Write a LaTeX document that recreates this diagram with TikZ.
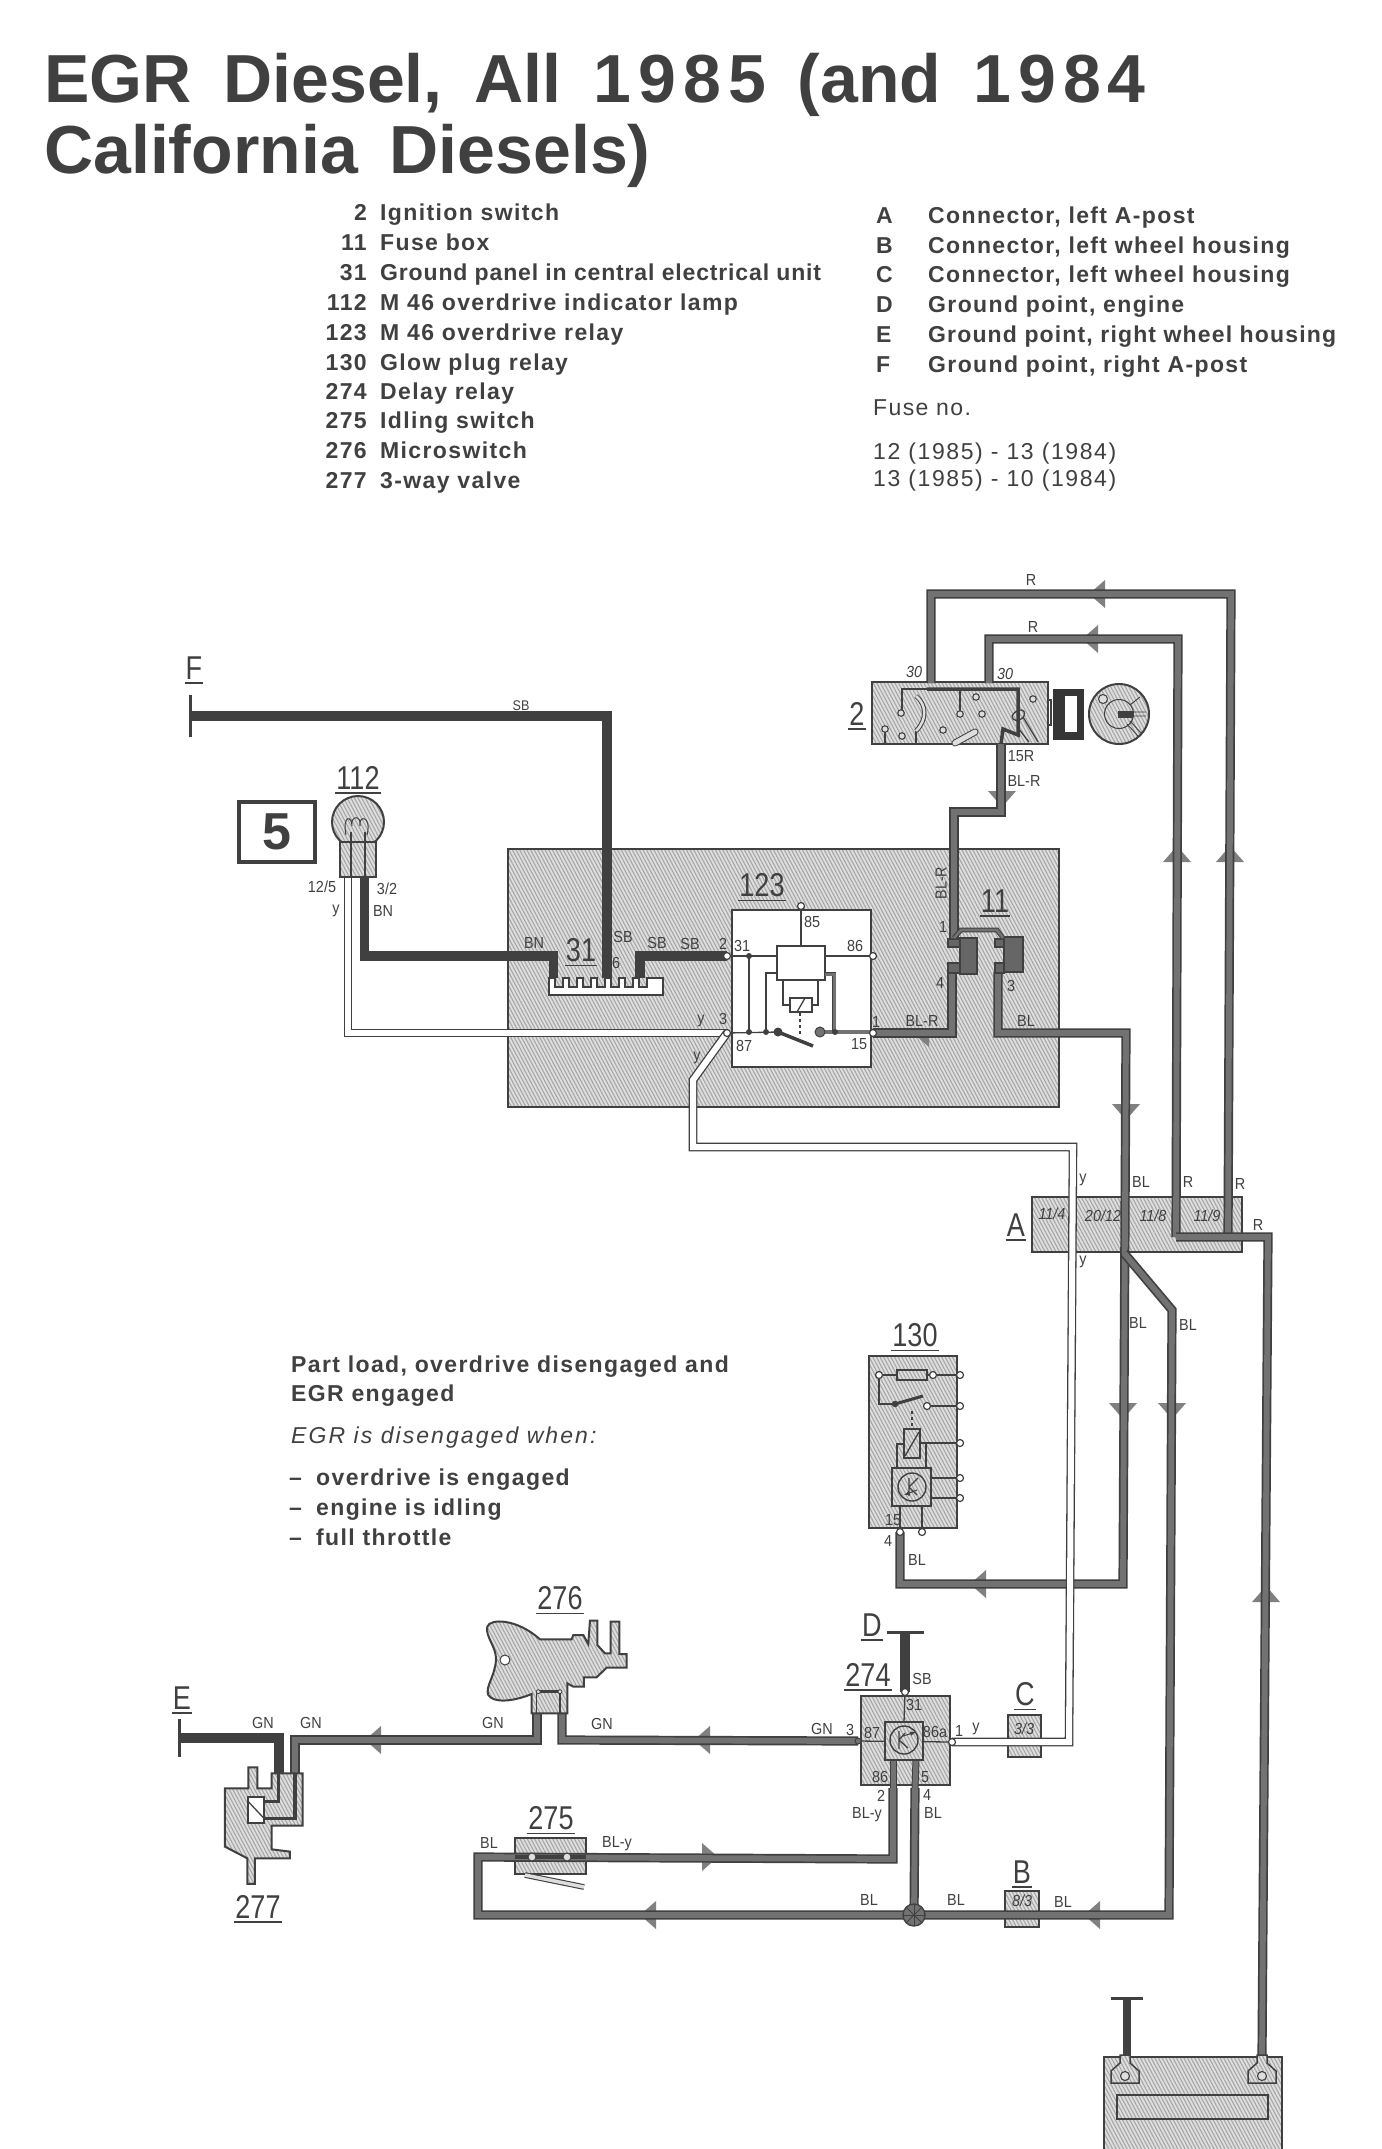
\documentclass[tikz,border=0pt]{standalone}
\usepackage{fontspec}
\usetikzlibrary{patterns.meta,calc}
\setmainfont{Liberation Sans}
\newfontfamily\idf[FakeStretch=0.82]{Liberation Sans}
\newfontfamily\wlf[FakeStretch=0.9]{Liberation Sans}
\newfontfamily\lgf[LetterSpace=6]{Liberation Sans}
\definecolor{ink}{HTML}{404040}
\definecolor{wirecore}{HTML}{727272}
\definecolor{hatchbg}{HTML}{DEDEDE}
\definecolor{hatchfg}{HTML}{A6A6A6}
\tikzset{
 wireG/.style={draw=ink,line width=1.7pt,double=wirecore,double distance=5.8pt,line join=miter},
 wireD/.style={draw=ink,line width=9.5pt,line join=miter},
 wireW/.style={draw=ink,line width=1.3pt,double=white,double distance=6pt,line join=miter},
 thinl/.style={draw=ink,line width=1.3pt},
 hatchbox/.style={draw=ink,line width=2pt,inner sep=0pt,preaction={fill=hatchbg},pattern={Lines[angle=-62,distance=3.2pt,line width=1.1pt]},pattern color=hatchfg},
 hatchpath/.style={draw=ink,line width=2pt,line join=miter,preaction={fill=hatchbg},pattern={Lines[angle=-62,distance=3.2pt,line width=1.1pt]},pattern color=hatchfg},
 whitebox/.style={draw=ink,line width=2pt,fill=white,inner sep=0pt},
 darkbox/.style={draw=ink,line width=1.5pt,fill=ink!80,inner sep=0pt},
 pinc/.style={circle,draw=ink,line width=1.2pt,fill=white,inner sep=0pt,minimum size=7pt},
 dotn/.style={circle,fill=ink,inner sep=0pt,minimum size=6pt},
 wl/.style={font=\wlf\fontsize{16}{16}\selectfont,text=ink,inner sep=0pt},
 wls/.style={font=\wlf\fontsize{14}{14}\selectfont,text=ink,inner sep=0pt},
 wli/.style={font=\wlf\itshape\fontsize{16}{16}\selectfont,text=ink,inner sep=0pt},
 idn/.style={font=\idf\fontsize{33}{33}\selectfont,text=ink,inner xsep=1pt,inner ysep=3.5pt},
 idline/.style={draw=ink,line width=1.6pt},
 lg/.style={font=\lgf\bfseries\fontsize{23}{23}\selectfont,text=ink,inner sep=0pt,anchor=base west},
 lgn/.style={font=\lgf\bfseries\fontsize{23}{23}\selectfont,text=ink,inner sep=0pt,anchor=base east},
 lgr/.style={font=\lgf\fontsize{23}{23}\selectfont,text=ink,inner sep=0pt,anchor=base west},
 ttl/.style={font=\bfseries\fontsize{68}{68}\selectfont,text=ink,inner sep=0pt,anchor=base west},
 fin/.style={fill=wirecore!90!white},
 finL/.pic={\fill[fin] (-10,0)--(6,-14)--(6,14)--cycle;},
 finR/.pic={\fill[fin] (10,0)--(-6,-14)--(-6,14)--cycle;},
 finU/.pic={\fill[fin] (0,-10)--(-14,6)--(14,6)--cycle;},
 finD/.pic={\fill[fin] (0,10)--(-14,-6)--(14,-6)--cycle;},
 finH/.pic={\fill[fin] (-10,0)--(6,0)--(6,14)--cycle;},
}
\newcommand\idlab[3]{\node[idn] (#1) at (#2) {#3}; \draw[idline] (#1.south west) -- (#1.south east);}
\newcommand\wlab[3]{\node[wl] (#1) at (#2) {#3};}
\newcommand\slab[3]{\node[wls] (#1) at (#2) {#3};}
\newcommand\pinat[2]{\node[pinc] (#1) at (#2) {};}
\newcommand\dotat[2]{\node[dotn] (#1) at (#2) {};}
\newcommand\wdg[4]{#1\kern7pt #2\kern7pt #3\kern7pt #4}
\begin{document}
\begin{tikzpicture}[x=1pt,y=-1pt]
\useasboundingbox[fill=white] (0,0) rectangle (1381,2149);
\clip (0,0) rectangle (1381,2149);
% ---------- title and legends
\node[ttl] (title1) at (44,102) {\spaceskip=32pt EGR Diesel, All \wdg1985 (and \wdg1984};
\node[ttl] (title2) at (44,173) {\spaceskip=32pt California Diesels)};
\foreach \n/\num/\txt/\yy in {a/2/Ignition switch/220,b/11/Fuse box/250,c/31/{\addfontfeature{LetterSpace=3.7}Ground panel in central electrical unit}/280,d/112/M 46 overdrive indicator lamp/310,e/123/M 46 overdrive relay/340,f/130/Glow plug relay/370,g/274/Delay relay/399,h/275/Idling switch/428,i/276/Microswitch/458,j/277/3-way valve/488}{
 \node[lgn] (ln\n) at (367,\yy) {\num};
 \node[lg] (lt\n) at (380,\yy) {\txt};
}
\foreach \n/\num/\txt/\yy in {a/A/{Connector, left A-post}/223,b/B/{Connector, left wheel housing}/253,c/C/{Connector, left wheel housing}/282,d/D/{Ground point, engine}/312,e/E/{\addfontfeature{LetterSpace=5}Ground point, right wheel housing}/342,f/F/{Ground point, right A-post}/372}{
 \node[lg] (rn\n) at (876,\yy) {\num};
 \node[lg] (rt\n) at (928,\yy) {\txt};
}
\node[lgr] (fuse0) at (873,415) {Fuse no.};
\node[lgr] (fuse1) at (873,459) {\addfontfeature{LetterSpace=7}12 (1985) - 13 (1984)};
\node[lgr] (fuse2) at (873,486) {\addfontfeature{LetterSpace=7}13 (1985) - 10 (1984)};
\node[lg] (n1) at (291,1372) {Part load, overdrive disengaged and};
\node[lg] (n2) at (291,1401) {EGR engaged};
\node[lgr,font=\lgf\itshape\fontsize{23}{23}\selectfont] (n3) at (291,1443) {\addfontfeature{LetterSpace=9}EGR is disengaged when:};
\node[lgn] (n4a) at (302,1485) {–}; \node[lg] (n4) at (316,1485) {overdrive is engaged};
\node[lgn] (n5a) at (302,1515) {–}; \node[lg] (n5) at (316,1515) {engine is idling};
\node[lgn] (n6a) at (302,1545) {–}; \node[lg] (n6) at (316,1545) {full throttle};
% ---------- panels
\node[hatchbox,minimum width=551,minimum height=258] (panel) at (783.5,978) {};
\node[hatchbox,minimum width=210,minimum height=55] (A) at (1137,1224.5) {};
\node[hatchbox,minimum width=176,minimum height=62] (sw2) at (960,713) {};
\node[hatchbox,minimum width=88,minimum height=172] (gp) at (913,1442) {};
\node[hatchbox,minimum width=89,minimum height=89] (dr) at (905.5,1740.5) {};
\node[hatchbox,minimum width=33,minimum height=42] (C) at (1024.5,1736) {};
\node[hatchbox,minimum width=34,minimum height=36] (B) at (1022,1909) {};
\node[hatchbox,minimum width=71,minimum height=36] (idle) at (550.5,1856) {};
\node[hatchbox,minimum width=178,minimum height=120] (batt) at (1193,2117) {};
\node[hatchbox,minimum width=151,minimum height=24] (battb) at (1192.5,2107) {};
\node[whitebox,minimum width=139,minimum height=157] (relay) at (801.5,988.5) {};
% ---------- coordinates
\coordinate (sw30a) at (931,683); \coordinate (sw30b) at (989,683);
\coordinate (sw15) at (1001,744);
\coordinate (rj) at (1176,1237); \coordinate (rj2) at (1228,1237);
\coordinate (battR) at (1262,2055); \coordinate (battLtop) at (1127,1998); \coordinate (battL) at (1127,2055);
\coordinate (fb1) at (954,938); \coordinate (fb4) at (952,972); \coordinate (fb3) at (998,972);
\coordinate (r1) at (873,1033); \coordinate (r2) at (727,956); \coordinate (r3) at (727,1033);
\coordinate (gp4) at (900,1532); \coordinate (blj) at (1124,1253);
\coordinate (hub) at (914,1915); \coordinate (dr87) at (858,1741); \coordinate (dr1) at (952,1742);
\coordinate (dr2) at (893,1788); \coordinate (dr4) at (915,1788); \coordinate (dr31) at (905,1692); \coordinate (Dbar) at (905,1632);
\coordinate (ms1) at (537,1713); \coordinate (ms2) at (562,1713);
\coordinate (v1) at (295,1773); \coordinate (v2) at (279,1773); \coordinate (Ebar) at (180,1738);
\coordinate (Fbar) at (190,716);
\coordinate (c1) at (553.5,978); \coordinate (c2) at (607,978); \coordinate (c3) at (640,978);
\coordinate (lampY) at (348,877); \coordinate (lampB) at (364.5,877);
% ---------- direction fins
\pic at (1099,594) {finL}; \pic at (1092,639) {finL};
\pic at (923,1033) {finH}; \pic at (980,1584) {finL};
\pic at (375,1740) {finL}; \pic at (704,1740) {finL};
\pic at (650,1915) {finL}; \pic at (1094,1915) {finL};
\pic at (708,1857) {finR};
\pic at (1177,856) {finU}; \pic at (1230,856) {finU}; \pic at (1266,1596) {finU};
\pic at (1002,797) {finD}; \pic at (1126,1110) {finD};
\pic at (1123,1409) {finD}; \pic at (1172,1409) {finD};
% ---------- wires
\draw[wireG] (rj2) -- (1231,594) -- (931,594) -- (sw30a);
\draw[wireG] (rj) -- (1178,639) -- (989,639) -- (sw30b);
\draw[wireG] (rj) -- (1268,1237) -- (battR);
\draw[wireG] (sw15) -- (1001,812) -- (954,812) -- (fb1);
\draw[wireG] (fb4) -- (952,1033) -- (r1);
\draw[wireG] (fb3) -- (998,1033) -- (1126,1033) -- (1123,1584) -- (900,1584) -- (gp4);
\draw[wireG] (blj) -- (1172,1310) -- (1169,1915) -- (478,1915) -- (478,1857) -- (893,1859) -- (dr2);
\draw[wireG] (hub) -- (dr4);
\draw[wireG] (dr87) -- (562,1740) -- (ms2);
\draw[wireG] (ms1) -- (537,1740) -- (295,1740) -- (v1);
\draw[wireD] (Fbar) -- (607,716) -- (c2);
\draw[wireD] (lampB) -- (364.5,956) -- (553.5,956) -- (c1);
\draw[wireD] (c3) -- (640,956) -- (r2);
\draw[wireD] (Ebar) -- (279,1738) -- (v2);
\draw[wireD] (Dbar) -- (dr31);
\draw[wireD,line width=8pt] (battLtop) -- (battL);
\draw[wireW] (lampY) -- (348,1033) -- (r3);
\draw[wireW] (r3) -- (693,1080) -- (693,1147) -- (1073,1147) -- (1069,1742) -- (dr1);
\draw[ink,line width=3pt] (179,1719) -- (179,1757);
\draw[ink,line width=3pt] (190,695) -- (190,737);
\draw[ink,line width=3pt] (887,1632) -- (924,1632);
\draw[ink,line width=3pt] (1111,1998) -- (1143,1998);
% junction hub
\node[circle,draw=ink,line width=1.4pt,fill=wirecore,inner sep=0pt,minimum size=22pt] (hubc) at (hub) {};
\foreach \a in {0,45,...,135} \draw[ink,line width=.8pt] ($(hub)+(\a:10)$) -- ($(hub)+(\a+180:10)$);
% ---------- lamp 112
\node[circle,hatchbox,minimum size=52pt] (bulb) at (358,822) {};
\node[hatchbox,minimum width=36,minimum height=35] (lampbase) at (358,859.5) {};
\draw[thinl] (351,877) -- (351,832) (365,877) -- (365,832);
\draw[thinl,line width=1pt] (346,835) .. controls (342,815) and (352,815) .. (352,826) .. controls (350,815) and (362,815) .. (360,826) .. controls (358,815) and (372,815) .. (367,835);
\node[draw=ink,line width=3.5pt,minimum width=76,minimum height=60,inner sep=0pt,font=\bfseries\fontsize{52}{52}\selectfont,text=ink] (box5) at (277,832) {5};
% ---------- ground comb 31
\draw[whitebox,fill=white,line width=2pt] (549,978)--(555,978)--(555,987)--(563,987)--(563,978)--(569,978)--(569,987)--(577,987)--(577,978)--(583,978)--(583,987)--(591,987)--(591,978)--(597,978)--(597,987)--(605,987)--(605,978)--(611,978)--(611,987)--(619,987)--(619,978)--(625,978)--(625,987)--(633,987)--(633,978)--(639,978)--(639,987)--(647,987)--(647,978)--(663,978)--(663,995)--(549,995)--cycle;
% ---------- relay 123 inner
\draw[thinl] (r2) -- (777,956) (825,956) -- (869,956);
\draw[thinl] (801,910) -- (801,946);
\draw[thinl] (749,956) -- (749,1032);
\draw[thinl] (r3) -- (778,1032);
\draw[thinl] (766,1032) -- (766,973) -- (777,973);
\node[whitebox,minimum width=48,minimum height=34,line width=1.6pt] (coilbox) at (801,963) {};
\draw[thinl] (783,980) -- (783,1005) -- (790,1005) (818,980) -- (818,1005) -- (812,1005);
\node[whitebox,line width=1.5pt,minimum width=22,minimum height=14] (coil) at (801,1005) {};
\draw[thinl] (797,1012) -- (805,998);
\draw[thinl,dashed,line width=1.5pt] (800,1013) -- (800,1037);
\draw[ink,line width=3.5pt] (778,1032) -- (813,1046);
\draw[wirecore,line width=4.5pt] (873,1032) -- (820,1032);
\draw[wireG,line width=.8pt,double distance=3pt] (825,974) -- (834,974) -- (834,1032);
\node[circle,draw=ink,fill=wirecore,line width=1pt,inner sep=0pt,minimum size=10pt] (conB) at (820,1032) {};
\node[circle,fill=ink,inner sep=0pt,minimum size=9pt] (conA) at (778,1032) {};
\dotat{d1}{749,956}\dotat{d2}{749,1032}\dotat{d3}{766,1032}\dotat{d4}{835,1032}
\pinat{p85}{801,906}\pinat{p86}{873,956}\pinat{p2}{727,956}\pinat{p3}{727,1033}\pinat{p1}{873,1033}
% ---------- fuse box 11
\node[darkbox,minimum width=17,minimum height=36] (fbL) at (968.5,956) {};
\node[darkbox,minimum width=19,minimum height=35] (fbR) at (1013.5,954.5) {};
\node[darkbox,minimum width=12,minimum height=8] (fbLa) at (954,943) {};
\node[darkbox,minimum width=12,minimum height=10] (fbLb) at (954,968) {};
\node[darkbox,minimum width=9,minimum height=8] (fbRa) at (999.5,943) {};
\node[darkbox,minimum width=9,minimum height=10] (fbRb) at (999.5,968) {};
\draw[draw=ink,line width=1.1pt,double=wirecore,double distance=2.6pt] (fb1) -- (961,930) -- (997,930) -- (1003,938);
% ---------- ignition switch 2
\draw[ink,line width=3.5pt] (927,689) -- (1018,689) -- (1018,735) -- (1003,729) -- (1001,744);
\draw[thinl] (902,710) -- (902,689) -- (927,689) (960,711) -- (960,689) (885,726) -- (885,744) (916,731) -- (916,744);
\draw[draw=ink,line width=1pt,double=hatchbg,double distance=2.5pt] (916,696) .. controls (927,705) and (927,720) .. (916,731);
\draw[draw=ink,line width=1pt,double=hatchbg,double distance=5pt,line cap=round] (955,743) -- (975,732);
\foreach \n/\q in {a/{901,713},b/{885,729},c/{902,736},d/{960,714},e/{976,697},f/{982,714},g/{943,730},h/{1033,699}}{\node[circle,draw=ink,line width=1.1pt,fill=hatchbg,inner sep=0pt,minimum size=6.5pt] (ic\n) at (\q) {};}
\draw[thinl] (1023,717) -- (1038,742) (1018,728) -- (1029,742);
\draw[thinl] (1012,716) .. controls (1016,708) and (1027,708) .. (1024,716) .. controls (1020,722) and (1012,722) .. (1012,716);
\draw[thinl] (1048,700) -- (1051,700) -- (1051,725) -- (1048,725);
\node[fill=ink!85!black,minimum width=31,minimum height=51,inner sep=0pt] (lock) at (1068.5,714.5) {};
\node[fill=white,minimum width=12,minimum height=36,inner sep=0pt] (lockw) at (1071,714) {};
\node[circle,hatchbox,minimum size=60pt] (key) at (1119,714) {};
\node[circle,draw=ink,line width=1pt,minimum size=29pt,inner sep=0pt] (keyi) at (1119,714) {};
\node[circle,draw=ink,line width=1pt,fill=hatchbg,minimum size=9pt,inner sep=0pt] (keyh) at (1103,699) {};
\node[fill=ink,minimum width=15,minimum height=7,inner sep=0pt] (keyb) at (1125.5,714.5) {};
\draw[ink,line width=.9pt] (1133,712) -- (1146,712) (1133,716) -- (1146,716) (1130,721) -- (1141,733) (1127,724) -- (1138,736) (1130,705) -- (1140,697);
% ---------- glow plug relay 130
\draw[thinl] (879,1375) -- (960,1375) (879,1375) -- (879,1404) -- (895,1404) (927,1406) -- (960,1406);
\node[hatchbox,line width=1.3pt,minimum width=30,minimum height=10] (gpf) at (912,1375) {};
\draw[ink,line width=3pt] (895,1404) -- (923,1396);
\node[circle,fill=ink,inner sep=0pt,minimum size=6.5pt] (gpd) at (895,1404) {};
\draw[thinl,dashed] (912,1411) -- (912,1429);
\draw[thinl] (904,1444) -- (897,1444) -- (897,1468) (920,1443) -- (960,1443) (926,1443) -- (926,1468);
\node[hatchbox,line width=1.5pt,minimum width=16,minimum height=29] (gpc) at (912,1443.5) {};
\draw[thinl] (905,1456) -- (919,1432);
\node[hatchbox,line width=1.5pt,minimum width=39,minimum height=38] (gpt) at (911.5,1487) {};
\node[circle,draw=ink,line width=1.4pt,minimum size=28pt,inner sep=0pt] (gptc) at (912,1487) {};
\draw[thinl] (909,1478) -- (909,1496) (909,1487) -- (918,1478) (909,1487) -- (917,1495);
\draw[ink,line width=1pt,-latex] (917,1490) -- (904,1495);
\draw[thinl] (931,1478) -- (960,1478) (931,1498) -- (960,1498) (900,1506) -- (gp4) (922,1506) -- (922,1532);
\foreach \n/\q in {a/{960,1375},b/{960,1406},c/{960,1443},d/{960,1478},e/{960,1498},f/{900,1532},g/{922,1532},h/{879,1375},i/{933,1375},j/{927,1406}}{\node[pinc] (gpp\n) at (\q) {};}
% ---------- delay relay 274
\draw[thinl] (dr87) -- (dr1) (dr31) -- (904,1722);
\draw[wireG,line width=1pt,double distance=5pt] (dr2) -- (893,1760);
\draw[wireG,line width=1pt,double distance=5pt] (dr4) -- (916,1760);
\node[hatchbox,minimum width=38,minimum height=38] (drb) at (904,1741) {};
\node[circle,draw=ink,line width=1.4pt,minimum size=28pt,inner sep=0pt] (drc) at (904,1740) {};
\draw[thinl] (899,1731) -- (899,1749) (899,1740) -- (905,1733) (899,1740) -- (908,1748);
\draw[ink,line width=1pt,-latex] (903,1736) -- (916,1732);
\pinat{pd31}{dr31}\pinat{pd1}{dr1}
\node[circle,draw=ink,fill=wirecore,line width=1pt,inner sep=0pt,minimum size=6pt] (pd87) at (dr87) {};
% ---------- 276, 277, 275 in zoom coordinates
\begin{scope}[shift={(160,1570)},x=.3333pt,y=-.3333pt]
\draw[hatchpath] (1115,372) .. controls (1060,395) and (1000,400) .. (985,375) .. controls (975,350) and (1005,320) .. (1008,270) .. controls (1010,230) and (975,200) .. (982,170) .. controls (990,145) and (1070,145) .. (1140,208) -- (1235,208) -- (1240,195) -- (1270,195) -- (1285,222) -- (1290,152) -- (1312,152) -- (1312,225) -- (1335,250) -- (1352,250) -- (1352,155) -- (1378,155) -- (1378,252) -- (1400,252) -- (1400,293) -- (1340,293) -- (1310,322) -- (1272,322) -- (1272,350) -- (1240,350) -- (1222,340) -- (1222,430) -- (1115,430) -- cycle;
\node[circle,draw=ink,fill=white,line width=1pt,inner sep=0pt,minimum size=10pt] (mshole) at (1035,270) {};
\draw[ink,line width=3pt] (1135,365) -- (1200,365);
\draw[thinl] (1130,365) -- (1130,430) (1200,365) -- (1200,430);
\node[circle,draw=ink,fill=hatchbg,line width=.8pt,inner sep=0pt,minimum size=4pt] (msa) at (1135,365) {};
\node[circle,draw=ink,fill=hatchbg,line width=.8pt,inner sep=0pt,minimum size=4pt] (msb) at (1200,365) {};
\draw[hatchpath] (195,655) -- (265,655) -- (265,592) -- (292,592) -- (292,655) -- (335,655) -- (335,610) -- (428,610) -- (428,767) -- (335,767) -- (335,838) -- (390,845) -- (390,865) -- (285,865) -- (285,942) -- (262,942) -- (262,865) -- (195,830) -- cycle;
\draw[ink,line width=2.5pt] (355,610) -- (355,695) -- (312,695);
\draw[ink,line width=3.5pt] (405,610) -- (405,745) -- (312,745);
\node[whitebox,line width=1.5pt,minimum width=16,minimum height=26] (vcoil) at (288,720) {};
\draw[thinl] (265,695) -- (312,745);
\end{scope}
\draw[ink,line width=4pt] (515,1857) -- (586,1857);
\node[circle,draw=ink,fill=hatchbg,line width=1pt,inner sep=0pt,minimum size=8pt] (ida) at (532,1857) {};
\node[circle,draw=ink,fill=hatchbg,line width=1pt,inner sep=0pt,minimum size=8pt] (idb) at (567,1857) {};
\draw[draw=ink,line width=1.1pt,double=hatchbg,double distance=3.5pt] (525,1875) -- (584,1887);
% ---------- battery terminals
\foreach \n/\xx in {l/1125,r/1262}{
 \draw[hatchpath,line width=1.5pt,shift={(\xx,2055)}] (-5,0) -- (5,0) -- (5,8) -- (14,16) -- (14,28) -- (-14,28) -- (-14,16) -- (-5,8) -- cycle;
 \node[circle,draw=ink,line width=1.1pt,fill=hatchbg,inner sep=0pt,minimum size=9pt] (bt\n) at (\xx,2076) {};
}
% ---------- large labels
\idlab{lF}{194,668}{F}
\idlab{l112}{358,778}{112}
\idlab{l31}{581,950}{31}
\idlab{l123}{762,885}{123}
\idlab{l11}{995,901}{11}
\idlab{l2}{857,714}{2}
\idlab{lA}{1016,1225}{A}
\idlab{l130}{915,1335}{130}
\idlab{lD}{872,1625}{D}
\idlab{l274}{868,1675}{274}
\idlab{lC}{1025,1694}{C}
\idlab{lB}{1022,1872}{B}
\idlab{lE}{182,1698}{E}
\idlab{l276}{560,1598}{276}
\idlab{l275}{551,1818}{275}
\idlab{l277}{258,1907}{277}
% ---------- wire labels
\slab{tSBa}{521,706}{SB}
\wlab{t125}{322,887}{12/5}\wlab{ty1}{336,911}{y}\wlab{t32}{387,889}{3/2}\wlab{tBN1}{383,911}{BN}
\wlab{tBN2}{534,943}{BN}\wlab{tSBb}{623,937}{SB}\wlab{tSBc}{657,943}{SB}\wlab{tSBd}{690,944}{SB}
\wlab{t6}{616,963}{6}\wlab{tp2}{723,944}{2}\wlab{ty2}{701,1021}{y}\wlab{tp3}{723,1019}{3}
\wlab{ty3}{697,1058}{y}
\wlab{t31}{742,946}{31}\wlab{t85}{812,922}{85}\wlab{t86}{855,946}{86}\wlab{t87}{744,1046}{87}\wlab{t15a}{859,1044}{15}\wlab{tp1}{876,1022}{1}
\wlab{tBLRa}{922,1021}{BL-R}\wlab{tBLa}{1026,1021}{BL}
\node[wl,rotate=90] (tBLRb) at (941,883) {BL-R};
\wlab{tf1}{943,927}{1}\wlab{tf4}{940,983}{4}\wlab{tf3}{1011,986}{3}
\node[wli] (t30a) at (914,672) {30};\node[wli] (t30b) at (1005,674) {30};
\wlab{t15r}{1021,756}{15R}\wlab{tBLRc}{1024,781}{BL-R}
\wlab{tRa}{1031,580}{R}\wlab{tRb}{1033,627}{R}
\wlab{tya}{1083,1180}{y}\wlab{tBLb}{1141,1182}{BL}\wlab{tRc}{1188,1182}{R}\wlab{tRd}{1240,1184}{R}\wlab{tRe}{1258,1225}{R}
\wlab{tyb}{1083,1262}{y}\wlab{tBLc}{1138,1323}{BL}\wlab{tBLd}{1188,1325}{BL}
\node[wli] (tA1) at (1052,1214) {11/4};\node[wli] (tA2) at (1103,1216) {20/12};\node[wli] (tA3) at (1153,1216) {11/8};\node[wli] (tA4) at (1207,1216) {11/9};
\wlab{t15b}{893,1520}{15}\wlab{t4a}{888,1541}{4}\wlab{tBLe}{917,1560}{BL}
\wlab{tSBe}{922,1679}{SB}\wlab{t31b}{914,1705}{31}\wlab{t87b}{872,1733}{87}\wlab{t86b}{935,1732}{86a}\wlab{t86c}{880,1777}{86}\wlab{t5}{925,1777}{5}
\wlab{t3b}{850,1730}{3}\wlab{t1b}{959,1731}{1}\wlab{tYb}{976,1729}{y}\wlab{t2b}{881,1796}{2}\wlab{t4b}{927,1795}{4}\wlab{tBLY}{867,1815}{BL-y}\wlab{tBLf}{933,1813}{BL}
\node[wli] (t33) at (1024,1729) {3/3};\node[wli] (t83) at (1022,1901) {8/3};
\wlab{tBLg}{869,1900}{BL}\wlab{tBLh}{956,1900}{BL}\wlab{tBLi}{1063,1902}{BL}
\wlab{tGNa}{263,1723}{GN}\wlab{tGNb}{311,1723}{GN}\wlab{tGNc}{493,1723}{GN}\wlab{tGNd}{602,1724}{GN}\wlab{tGNe}{822,1729}{GN}
\wlab{tBLj}{489,1843}{BL}\wlab{tBLYb}{617,1844}{BL-y}
\end{tikzpicture}
\end{document}
